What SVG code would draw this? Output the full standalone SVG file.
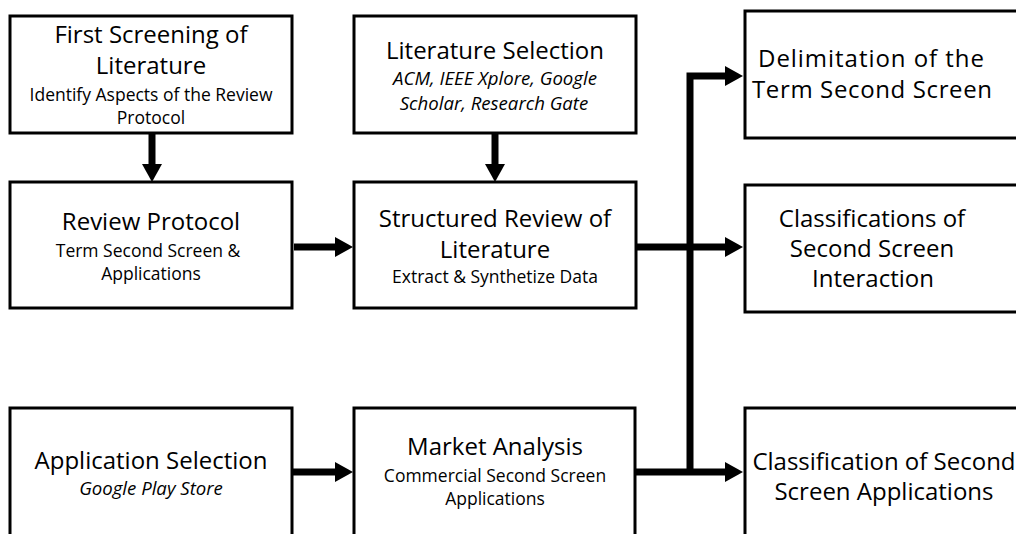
<svg xmlns="http://www.w3.org/2000/svg" width="1016" height="534" viewBox="0 0 1016 534">
  <style>
    .box { fill: #ffffff; stroke: #000000; stroke-width: 3; }
    .title { font-family: "Open Sans", "Noto Sans", "DejaVu Sans", sans-serif; font-size: 24px; fill: #000000; text-anchor: middle; }
    .sub { font-family: "Open Sans", "Noto Sans", "DejaVu Sans", sans-serif; font-size: 17.5px; fill: #000000; text-anchor: middle; }
    .it { font-style: italic; font-size: 18.6px; }
    .link { fill: none; stroke: #000000; stroke-width: 7; stroke-linejoin: miter; }
  </style>
  <defs>
    <marker id="head" markerUnits="userSpaceOnUse" markerWidth="18" markerHeight="20" refX="6" refY="10" orient="auto">
      <path d="M0,0 L18,10 L0,20 Z" fill="#000000"/>
    </marker>
  </defs>
  <rect width="1016" height="534" fill="#ffffff"/>

  <!-- connectors -->
  <g id="connectors">
    <line class="link" x1="152" y1="134" x2="152" y2="170" marker-end="url(#head)"/>
    <line class="link" x1="495" y1="134" x2="495" y2="170" marker-end="url(#head)"/>
    <line class="link" x1="294" y1="247" x2="341" y2="247" marker-end="url(#head)"/>
    <line class="link" x1="293" y1="472" x2="341" y2="472" marker-end="url(#head)"/>
    <line class="link" x1="637" y1="247" x2="731" y2="247" marker-end="url(#head)"/>
    <line class="link" x1="636" y1="472" x2="731" y2="472" marker-end="url(#head)"/>
    <path class="link" d="M690,475 L690,76 L731,76" marker-end="url(#head)"/>
  </g>

  <g id="first-screening">
    <rect class="box" x="10" y="16" width="282" height="117"/>
    <text class="title" x="151" y="43" font-size="23">First Screening of</text>
    <text class="title" x="151" y="74" font-size="23">Literature</text>
    <text class="sub" x="151" y="101" font-size="18">Identify Aspects of the Review</text>
    <text class="sub" x="151" y="124" font-size="18">Protocol</text>
  </g>

  <g id="review-protocol">
    <rect class="box" x="10" y="182" width="282" height="126"/>
    <text class="title" x="151" y="230" font-size="23.5">Review Protocol</text>
    <text class="sub" x="148" y="257">Term Second Screen &amp;</text>
    <text class="sub" x="151" y="280">Applications</text>
  </g>

  <g id="literature-selection">
    <rect class="box" x="354" y="16" width="282" height="117"/>
    <text class="title" x="495" y="59" font-size="23.5">Literature Selection</text>
    <text class="sub it" x="495" y="85">ACM, IEEE Xplore, Google</text>
    <text class="sub it" x="494" y="110">Scholar, Research Gate</text>
  </g>

  <g id="structured-review">
    <rect class="box" x="354" y="182" width="282" height="126"/>
    <text class="title" x="495" y="227" font-size="23.2">Structured Review of</text>
    <text class="title" x="495" y="258" font-size="23.2">Literature</text>
    <text class="sub" x="495" y="283" font-size="17.8">Extract &amp; Synthetize Data</text>
  </g>

  <g id="delimitation">
    <rect class="box" x="745" y="11" width="280" height="127"/>
    <text class="title" x="871" y="67" font-size="25" textLength="226" lengthAdjust="spacing">Delimitation of the</text>
    <text class="title" x="872" y="98" font-size="25" textLength="240" lengthAdjust="spacing">Term Second Screen</text>
  </g>

  <g id="interaction-classifications">
    <rect class="box" x="745" y="185" width="280" height="127"/>
    <text class="title" x="872" y="227">Classifications of</text>
    <text class="title" x="872" y="257">Second Screen</text>
    <text class="title" x="873" y="287">Interaction</text>
  </g>

  <g id="application-selection">
    <rect class="box" x="10" y="408" width="282" height="140"/>
    <text class="title" x="151" y="469" font-size="23.5">Application Selection</text>
    <text class="sub it" x="151" y="495">Google Play Store</text>
  </g>

  <g id="market-analysis">
    <rect class="box" x="354" y="408" width="281" height="140"/>
    <text class="title" x="495" y="455" font-size="23.5">Market Analysis</text>
    <text class="sub" x="495" y="482" font-size="17.8">Commercial Second Screen</text>
    <text class="sub" x="495" y="505">Applications</text>
  </g>

  <g id="application-classification">
    <rect class="box" x="745" y="408" width="280" height="140"/>
    <text class="title" x="884" y="470" font-size="23.5">Classification of Second</text>
    <text class="title" x="884" y="500" font-size="23.5">Screen Applications</text>
  </g>
</svg>
